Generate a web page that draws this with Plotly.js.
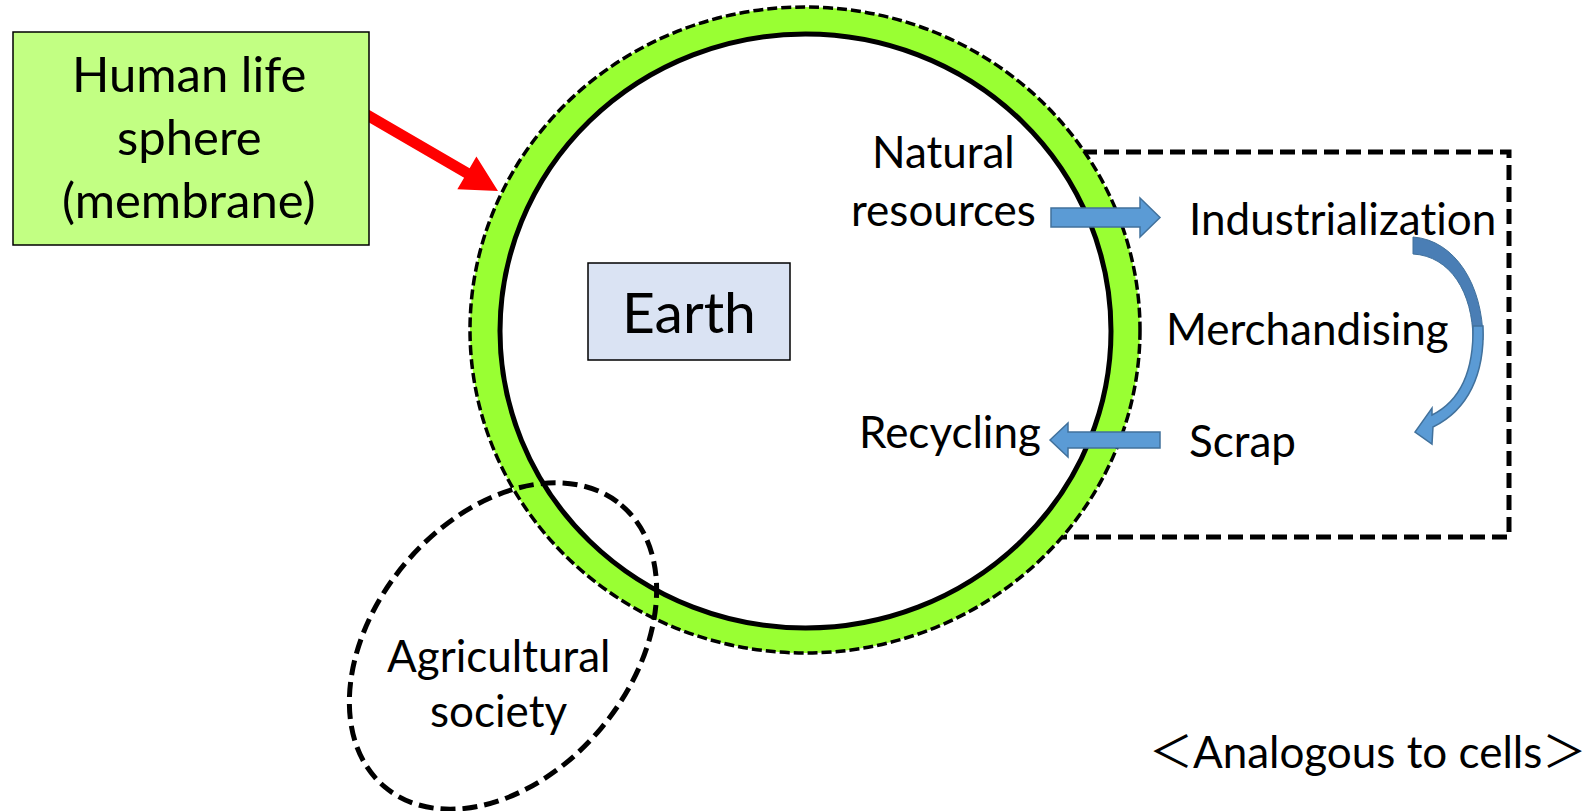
<!DOCTYPE html>
<html><head><meta charset="utf-8">
<script src="https://cdn.plot.ly/plotly-3.0.1.min.js"></script>
<style>html,body{margin:0;padding:0;background:#fff;overflow:hidden}
svg text{font-variant-ligatures:none;font-feature-settings:"liga" 0,"clig" 0,"dlig" 0;}</style>
</head><body><div id="chart" style="width:1595px;height:811px"></div>
<script>
// ---- content (text of the diagram) ----
const membraneLabel = ['Human life', 'sphere', '(membrane)'];
const coreLabel = ['Earth'];
const inflowLabel = ['Natural', 'resources'];
const cycleLabels = ['Industrialization', 'Merchandising', 'Scrap'];
const returnLabel = ['Recycling'];
const agriLabel = ['Agricultural', 'society'];
const noteLabel = ['＜Analogous to cells＞'];

// ---- layout / geometry (pixel space, y downward) ----
const W = 1595, H = 811;
const FONT = 'Lato, "Noto Sans CJK JP", sans-serif';
const BLUE = '#5B9BD5', BLUE_LINE = '#41719C';

function ellipsePath(cx, cy, a, b, deg) {
  const t = deg * Math.PI / 180, k = 0.5522847;
  const ux = Math.cos(t), uy = Math.sin(t), vx = -Math.sin(t), vy = Math.cos(t);
  const P = (u, v) => (cx + u * ux + v * vx).toFixed(2) + ',' + (cy + u * uy + v * vy).toFixed(2);
  return 'M' + P(a, 0) +
    ' C' + P(a, k * b) + ' ' + P(k * a, b) + ' ' + P(0, b) +
    ' C' + P(-k * a, b) + ' ' + P(-a, k * b) + ' ' + P(-a, 0) +
    ' C' + P(-a, -k * b) + ' ' + P(-k * a, -b) + ' ' + P(0, -b) +
    ' C' + P(k * a, -b) + ' ' + P(a, -k * b) + ' ' + P(a, 0) + ' Z';
}
function arrowPath(x1, y1, x2, y2, w, hl, hw) {
  const L = Math.hypot(x2 - x1, y2 - y1), ux = (x2 - x1) / L, uy = (y2 - y1) / L, nx = -uy, ny = ux;
  const bx = x2 - ux * hl, by = y2 - uy * hl;
  const p = (x, y) => x.toFixed(2) + ',' + y.toFixed(2);
  return 'M' + p(x1 + nx * w / 2, y1 + ny * w / 2) + ' L' + p(bx + nx * w / 2, by + ny * w / 2) +
    ' L' + p(bx + nx * hw, by + ny * hw) + ' L' + p(x2, y2) + ' L' + p(bx - nx * hw, by - ny * hw) +
    ' L' + p(bx - nx * w / 2, by - ny * w / 2) + ' L' + p(x1 - nx * w / 2, y1 - ny * w / 2) + ' Z';
}

const shapes = [
  // dashed boundary of the industrial cycle
  {type: 'rect', x0: 950, x1: 1509, y0: 152, y1: 537, line: {color: '#000', width: 5, dash: '15px,7px'}},
  // membrane (green ring)
  {type: 'circle', x0: 470, x1: 1140, y0: 7, y1: 653, fillcolor: '#99FF33', line: {color: '#000', width: 3.5, dash: '10px,4px'}},
  {type: 'circle', x0: 500, x1: 1111, y0: 34, y1: 628, fillcolor: '#FFFFFF', line: {color: '#000', width: 5}},
  // agricultural society
  {type: 'path', path: ellipsePath(503, 646, 184, 128, -50), line: {color: '#000', width: 5, dash: '15px,7px'}},
  // straight blue arrows
  {type: 'path', path: 'M1051,208 L1140,208 L1140,198 L1160,217.5 L1140,237 L1140,227 L1051,227 Z', fillcolor: BLUE, line: {color: BLUE_LINE, width: 1.5}},
  {type: 'path', path: 'M1050,440 L1068,423 L1068,432 L1160,432 L1160,448 L1068,448 L1068,457 Z', fillcolor: BLUE, line: {color: BLUE_LINE, width: 1.5}},
  // curved arrow
  {type: 'path', path: 'M1413,237 C1455,240 1483,285 1483,340 L1473,340 C1473,292 1450,256 1413,254 Z', fillcolor: '#4A7EB5', line: {color: BLUE_LINE, width: 1}},
  {type: 'path', path: 'M1473,326 L1483,326 C1485,374 1468,410 1433,427 L1432,444 L1415,432 L1432,408 L1432,415 C1460,401 1474,372 1473,326 Z', fillcolor: BLUE, line: {color: BLUE_LINE, width: 1.5}},
  // red pointer arrow
  {type: 'path', path: arrowPath(355, 108, 498, 191, 11, 36, 19), fillcolor: '#FF0000', line: {color: '#FF0000', width: 0}},
  // boxes
  {type: 'rect', x0: 13, x1: 369, y0: 32, y1: 245, fillcolor: '#C2FF83', line: {color: '#000', width: 1.5}},
  {type: 'rect', x0: 588, x1: 790, y0: 263, y1: 360, fillcolor: '#DAE3F3', line: {color: '#000', width: 1.5}}
];

function lab(text, x, baseline, size) {
  return {text: text, x: x, y: baseline - 0.39 * size, xref: 'x', yref: 'y', showarrow: false,
    xanchor: 'center', yanchor: 'middle', font: {family: FONT, size: size, color: '#000'}};
}
const BOX = 49, LBL = 44;
const annotations = [
  lab(membraneLabel[0], 189, 92, BOX),
  lab(membraneLabel[1], 189, 155, BOX),
  lab(membraneLabel[2], 189, 218, BOX),
  lab(coreLabel[0], 689, 333, 57),
  lab(inflowLabel[0], 943, 168, LBL),
  lab(inflowLabel[1], 943, 226, LBL),
  lab(cycleLabels[0], 1342, 235, LBL),
  lab(cycleLabels[1], 1307, 345, LBL),
  lab(cycleLabels[2], 1242, 457, LBL),
  lab(returnLabel[0], 950, 448, LBL),
  lab(agriLabel[0], 498, 672, LBL),
  lab(agriLabel[1], 498, 727, LBL),
  lab(noteLabel[0], 1367, 768, LBL)
];

const layout = {
  width: W, height: H, margin: {l: 0, r: 0, t: 0, b: 0},
  paper_bgcolor: '#fff', plot_bgcolor: '#fff', showlegend: false,
  xaxis: {range: [0, W], visible: false, fixedrange: true},
  yaxis: {range: [H, 0], visible: false, fixedrange: true},
  shapes: shapes, annotations: annotations
};
Plotly.newPlot('chart', [{x: [], y: [], type: 'scatter', mode: 'markers', hoverinfo: 'skip'}], layout, {staticPlot: true, displayModeBar: false});
</script></body></html>
